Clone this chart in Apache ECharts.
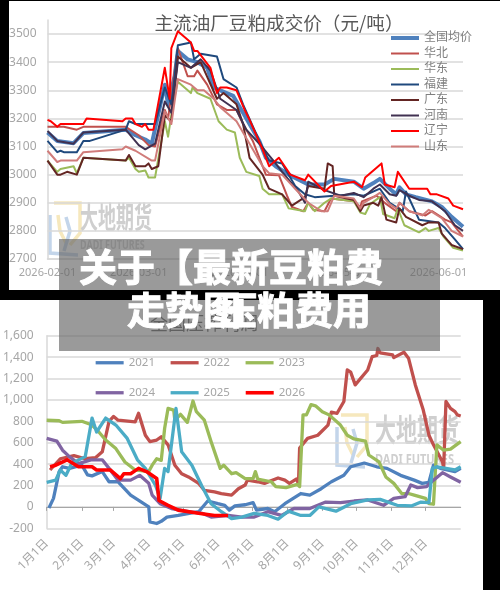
<!DOCTYPE html>
<html><head><meta charset="utf-8">
<style>html,body{margin:0;padding:0;background:#000;width:500px;height:590px;overflow:hidden}
#c,#o{position:absolute;left:0;top:0;width:500px;height:590px}#o{pointer-events:none}#c{filter:blur(0.5px)}</style>
<script src="https://cdn.jsdelivr.net/npm/echarts@6/dist/echarts.min.js"></script>
</head><body><div id="c"></div><div id="o"></div>
<script>
// ---- top chart: days since 2026-02-01, price (yuan/ton)
const topTickDays = [0, 28, 59, 89, 120];
const topTickLabels = ['2026-02-01', '2026-03-01', '2026-04-01', '2026-05-01', '2026-06-01'];
const topNames = ['全国均价', '华北', '华东', '福建', '广东', '河南', '辽宁', '山东'];
const national = [[0,3150],[3,3120],[8,3112],[11,3148],[24,3160],[27,3140],[30,3125],[32,3110],[36,3320],[37,3250],[39,3350],[40,3440],[43,3410],[46,3400],[49,3380],[51,3310],[53,3300],[57,3280],[60,3220],[65,3120],[67,3060],[70,3030],[74,3000],[80,2965],[85,2965],[88,2985],[94,2975],[97,2950],[100,2970],[102,2985],[105,2950],[107,2930],[108,2955],[110,2930],[113,2920],[118,2905],[121,2885],[124,2850],[127.5,2815]];
const huabei = [[0,3170],[5,3170],[9,3160],[11,3170],[24,3170],[28,3140],[31,3105],[33,3100],[36,3230],[37,3200],[40,3450],[43,3350],[45,3350],[46,3370],[49,3320],[52,3250],[55,3230],[58,3230],[60,3180],[63,3120],[67,3000],[71,2998],[73.5,2925],[75,2885],[78.5,2870],[80,2900],[81.5,2875],[85,2870],[87,2915],[94,2905],[96,2885],[96.5,2905],[101,2925],[104,2895],[107,2870],[108,2900],[111,2870],[116,2855],[118,2870],[122,2840],[124,2830],[127.5,2780]];
const huadong = [[0,3050],[3,3010],[4,3020],[8,3030],[9,3005],[11,3060],[24,3050],[25,3060],[27,3020],[28,3010],[30,3015],[31,2990],[33,2990],[36,3190],[37,3135],[38.5,3250],[40,3330],[44,3290],[44.5,3310],[46,3290],[50,3270],[52.5,3190],[55,3160],[57.5,3150],[59,3060],[61,3010],[65,2995],[66,2950],[68,2930],[72,2930],[74,2880],[79,2870],[80,2900],[82,2870],[85,2900],[87,2915],[94,2905],[96,2865],[97.5,2860],[99,2895],[102,2920],[103,2860],[106.5,2845],[107.5,2880],[109.5,2820],[114,2795],[116,2810],[117,2800],[120,2810],[121.5,2780],[124.5,2740],[127.5,2730]];
const fujian = [[0,3120],[3,3080],[4,3085],[5,3080],[9,3080],[11,3120],[13,3120],[24,3160],[25,3190],[27,3180],[33,3180],[36,3310],[38,3250],[39,3350],[40,3460],[44,3470],[45,3410],[47,3430],[52,3420],[54,3340],[58,3310],[60,3250],[65,3120],[68,3050],[72,3040],[76,2960],[79,2930],[82,2920],[94,2930],[97,2925],[102,2950],[105,2900],[109,2870],[110,2940],[114,2840],[120,2830],[122,2810],[125,2770],[127.5,2735]];
const guangdong = [[0,3050],[3,3000],[4,3000],[6,3010],[9,3000],[11,3060],[24,3050],[25,3070],[27,3030],[30,3030],[31,3040],[32,3020],[34,3030],[36,3210],[38,3190],[40,3420],[44,3380],[47,3400],[52,3270],[54,3290],[58,3250],[60,3180],[62,3060],[66,3000],[68,2950],[72,2930],[75,2890],[79,2920],[80,2960],[85,2950],[86,3040],[87.5,3030],[88,2925],[94,2910],[96,2870],[97,2890],[100,2900],[101.5,2890],[102.5,2920],[104,2840],[107,2830],[108,2880],[110,2850],[115,2820],[117,2830],[120,2830],[121,2790],[124,2750],[127.5,2735]];
const henan = [[0,3155],[3,3120],[8,3110],[11,3150],[24,3160],[28,3105],[30,3090],[33,3110],[36,3260],[38,3220],[40,3400],[44,3380],[47,3410],[50,3370],[53,3270],[58,3230],[61,3160],[65,3110],[70,3040],[72,3010],[77,2940],[79,2900],[80,2975],[85,2945],[90,2925],[94,2935],[97,2920],[100,2950],[102,2965],[105,2930],[107,2925],[108,2945],[111,2925],[114,2910],[118,2905],[122,2870],[125,2820],[127.5,2800]];
const liaoning = [[0,3195],[1,3190],[3,3170],[4,3180],[11,3180],[12,3200],[23,3190],[24,3200],[26,3200],[27,3180],[29,3170],[30,3180],[31,3160],[32.5,3160],[36,3380],[37.5,3270],[38,3450],[40,3510],[44,3470],[45,3440],[46,3440],[50,3380],[52,3290],[53,3310],[55,3310],[58,3300],[60.5,3230],[62,3195],[66,3090],[68,3030],[71,3060],[74.5,3000],[79,2980],[80,3000],[85,2940],[87,2960],[94,2975],[96.5,2955],[97.5,2990],[102.5,3040],[103.5,2965],[106.5,2955],[107.5,3010],[111,2950],[116.5,2950],[117.5,2930],[119.5,2930],[123,2915],[124.5,2890],[127.5,2877]];
const shandong = [[0,3085],[3,3045],[4,3050],[9,3050],[11,3080],[23,3090],[24,3100],[27,3085],[32,3050],[33,3050],[36,3225],[38,3180],[40,3340],[44,3320],[46,3300],[48,3300],[51,3270],[53,3240],[58,3190],[60,3150],[66,3030],[68,3005],[72,3000],[76,2950],[80,2900],[84,2870],[86,2870],[88,2925],[94,2915],[96,2880],[97,2900],[100,2920],[102,2935],[105,2895],[107,2880],[108,2900],[111,2870],[115,2855],[117,2875],[121,2845],[124,2800],[127.5,2780]];
const topValues = [national, huabei, huadong, fujian, guangdong, henan, liaoning, shandong];
const topColors = ['#4f81bd', '#c0504d', '#9bbb59', '#1f497d', '#632523', '#403151', '#ff0000', '#d07c7a'];
const topWidths = [4, 2, 2, 2, 2, 2, 2, 2];

// ---- bottom chart: day of year, value
const botTickDays = [0, 31, 59, 90, 120, 151, 181, 212, 243, 273, 304, 334];
const botTickLabels = ['1月1日','2月1日','3月1日','4月1日','5月1日','6月1日','7月1日','8月1日','9月1日','10月1日','11月1日','12月1日'];
const botNames = ['2021', '2022', '2023', '2024', '2025', '2026'];
const y2021 = [[2,-10],[6,80],[11,330],[14,375],[20,360],[31,390],[36,300],[40,290],[49,330],[55,235],[63,235],[74,110],[90,0],[91,-140],[97,-155],[101,-135],[106,-95],[116,-80],[134,-45],[142,55],[151,30],[157,15],[161,-30],[166,10],[175,20],[182,40],[185,-30],[195,-15],[201,-45],[210,30],[224,125],[232,110],[242,170],[251,235],[262,295],[268,375],[280,410],[291,375],[300,360],[312,295],[324,250],[331,220],[337,230],[341,390],[347,360],[360,330],[365,360]];
const y2022 = [[3,345],[12,450],[24,480],[34,450],[43,460],[49,515],[55,800],[59,845],[63,810],[78,795],[81,875],[87,670],[91,610],[97,625],[101,655],[107,580],[113,390],[119,310],[125,280],[134,220],[139,155],[148,140],[154,125],[163,110],[169,170],[175,205],[177,250],[186,235],[192,220],[204,270],[210,250],[214,220],[220,260],[222,220],[223,550],[230,640],[239,670],[248,765],[251,885],[256,875],[262,985],[265,1280],[268,1260],[272,1140],[283,1280],[287,1405],[291,1415],[292,1480],[294,1440],[305,1420],[306,1395],[315,1445],[319,1390],[325,1140],[332,905],[337,670],[341,580],[349,420],[350,360],[352,985],[356,920],[360,890],[362,860],[365,850]];
const y2023 = [[0,810],[11,805],[14,790],[31,800],[40,765],[46,700],[52,625],[61,545],[69,420],[78,345],[90,330],[93,390],[97,450],[101,435],[104,735],[107,920],[112,905],[113,810],[118,865],[124,790],[129,990],[132,890],[139,810],[145,610],[153,360],[156,390],[163,310],[167,320],[175,265],[182,265],[184,330],[186,260],[198,235],[202,190],[211,180],[221,210],[223,190],[226,860],[229,860],[233,955],[237,945],[243,890],[249,860],[259,765],[265,670],[271,635],[281,615],[284,485],[293,420],[299,280],[306,220],[313,125],[319,125],[324,110],[334,80],[337,30],[341,25],[344,580],[350,530],[356,540],[365,610]];
const y2024 = [[0,640],[9,615],[14,530],[20,470],[28,405],[39,440],[49,440],[55,360],[63,250],[74,250],[82,295],[90,220],[93,110],[100,30],[110,-15],[125,-45],[137,-60],[145,-95],[160,-80],[172,-95],[183,-95],[195,-45],[207,-80],[218,-15],[232,-15],[246,45],[259,40],[271,55],[283,65],[297,15],[306,80],[316,95],[321,205],[327,180],[335,190],[341,250],[349,320],[356,280],[365,230]];
const y2025 = [[0,230],[8,250],[12,345],[17,295],[22,405],[34,470],[40,830],[44,700],[52,830],[61,765],[71,640],[80,440],[87,360],[96,200],[100,80],[104,360],[107,330],[114,920],[119,515],[128,390],[137,190],[145,30],[154,-45],[163,-110],[172,-95],[183,-60],[195,-80],[204,-115],[213,-40],[224,-80],[232,-80],[240,0],[255,-40],[268,30],[283,65],[294,70],[309,15],[322,10],[330,45],[337,40],[340,360],[344,375],[360,345],[365,375]];
const y2026 = [[3,375],[8,390],[18,440],[28,375],[40,375],[44,345],[56,345],[65,265],[68,310],[74,310],[81,360],[88,330],[97,265],[99,60],[107,15],[116,-30],[134,-60],[148,-80],[160,-80]];
const botValues = [y2021, y2022, y2023, y2024, y2025, y2026];
const botColors = ['#4f81bd', '#c0504d', '#9bbb59', '#8064a2', '#4bacc6', '#ff0000'];

const FONT = '"Noto Sans","Noto Sans CJK SC",sans-serif';
const GREY = '#a6a6a6', GRID = '#d9d9d9';

function lineSeries(name, data, color, width, axisIndex) {
  return { name, type: 'line', data, xAxisIndex: axisIndex, yAxisIndex: axisIndex, symbol: 'none', showSymbol: false,
    smooth: false, silent: true, animation: false, color, lineStyle: { color, width, join: 'round' } };
}
function legend(data, left, top, orient, itemGap) {
  return { data, left, top, orient, itemGap, padding: 0, itemWidth: 28, itemHeight: 14, selectedMode: false,
    itemStyle: { opacity: 0 }, lineStyle: { width: 'inherit' },
    textStyle: { color: orient === 'vertical' ? '#7f7f7f' : GREY, fontFamily: FONT, fontSize: orient === 'vertical' ? 12 : 11.5 } };
}
function watermark(x, y, w, nameSize, nameScale, subSize, lx, ly) {
  const blue = '#c3d5ea', yellow = '#f6e8bd';
  const s = (pts, c) => ({ type: 'polyline', shape: { points: pts }, style: { stroke: c, lineWidth: 3.5, fill: null } });
  return [
    s([[lx+4,ly],[lx+30,ly],[lx+30,ly+30],[lx+20,ly+42]], yellow),
    s([[lx+8,ly+12],[lx+10,ly+28],[lx+16,ly+40]], yellow),
    s([[lx,ly+12],[lx,ly+50],[lx+28,ly+52]], blue),
    s([[lx+16,ly+14],[lx+20,ly+28],[lx+14,ly+48]], blue),
    { type: 'text', x, y, scaleY: nameScale, style: { text: '大地期货', font: `bold ${nameSize}px "Noto Sans CJK SC"`, fill: '#cfcfcf' } },
    { type: 'text', x, y: y + nameSize * nameScale + 8, scaleY: 1.3, style: { text: 'DADI FUTURES', font: `bold ${subSize}px "Noto Sans"`, fill: '#cfcfcf' } }
  ];
}

const chart = echarts.init(document.getElementById('c'), null, { renderer: 'canvas', width: 500, height: 590 });
chart.setOption({
  animation: false,
  backgroundColor: '#000',
  graphic: { z: -1, elements: [
    { type: 'rect', shape: { x: 9, y: 1, width: 491, height: 289 }, style: { fill: '#fff' } },
    { type: 'rect', shape: { x: 0, y: 300, width: 483, height: 290 }, style: { fill: '#fff' } },
    ...watermark(80, 202, 71, 18, 1.65, 9, 50, 203),
    ...watermark(375, 414, 85, 21, 1.45, 11, 337, 415),
    { type: 'text', x: 204, y: 323, style: { text: '全国压榨利润', font: '18px "Noto Sans CJK SC"', fill: '#595959', align: 'center', verticalAlign: 'middle' } },
    { type: 'text', x: 279, y: 23, style: { text: '主流油厂豆粕成交价（元/吨）', font: '18.6px "Noto Sans CJK SC"', fill: '#595959', align: 'center', verticalAlign: 'middle' } }
  ] },
  legend: [
    legend(topNames, 389, 32, 'vertical', 3.5),
    legend(botNames.slice(0, 3), 94, 357, 'horizontal', 14),
    legend(botNames.slice(3), 94, 387, 'horizontal', 14)
  ],
  grid: [
    { left: 47.5, width: 415.5, top: 20, height: 239 },
    { left: 44.3, width: 416.4, top: 335.7, height: 192.6 }
  ],
  xAxis: [
    { type: 'value', gridIndex: 0, min: 0, max: 127.5, splitLine: { show: false },
      axisLine: { show: true, lineStyle: { color: GRID, width: 1.5 } }, axisTick: { show: false },
      axisLabel: { customValues: topTickDays, color: GREY, fontFamily: FONT, fontSize: 11, margin: 8, hideOverlap: false,
        formatter: v => topTickLabels[topTickDays.indexOf(v)] || '' } },
    { type: 'value', gridIndex: 1, min: 0, max: 365, splitLine: { show: false },
      axisLine: { show: false, onZero: false }, axisTick: { show: false },
      axisLabel: { customValues: botTickDays, color: GREY, fontFamily: FONT, fontSize: 12, rotate: 45, margin: 13, hideOverlap: false,
        formatter: v => botTickLabels[botTickDays.indexOf(v)] || '' } },
    { type: 'value', gridIndex: 1, min: 0, max: 365, splitLine: { show: false },
      axisLine: { show: true, onZero: true, lineStyle: { color: '#a6a6a6', width: 1 } },
      axisTick: { show: true, inside: true, length: 4, customValues: botTickDays, lineStyle: { color: '#a6a6a6' } },
      axisLabel: { show: false } }
  ],
  yAxis: [
    { type: 'value', gridIndex: 0, min: 2700, max: 3550, interval: 100, axisTick: { show: false },
      axisLine: { show: true, lineStyle: { color: GRID, width: 1.5 } },
      splitLine: { show: true, showMaxLine: false, lineStyle: { color: GRID, width: 1.5 } },
      axisLabel: { color: GREY, fontFamily: FONT, fontSize: 12, margin: 11, showMaxLabel: false, formatter: v => String(v) } },
    { type: 'value', gridIndex: 1, min: -200, max: 1600, interval: 200, axisTick: { show: false },
      axisLine: { show: true, lineStyle: { color: GRID, width: 1.5 } },
      splitLine: { show: true, lineStyle: { color: GRID, width: 1.5 } },
      axisLabel: { color: GREY, fontFamily: FONT, fontSize: 12, margin: 13, formatter: v => v.toLocaleString('en-US') } }
  ],
  series: [
    ...topNames.map((n, i) => lineSeries(n, topValues[i], topColors[i], topWidths[i], 0)),
    ...botNames.map((n, i) => lineSeries(n, botValues[i], botColors[i], i === 5 ? 3.6 : 3.3, 1))
  ]
});

const overlay = echarts.init(document.getElementById('o'), null, { renderer: 'canvas', width: 500, height: 590 });
const titleStyle = (text, x, y, align) => ({ type: 'text', x, y, style: { text, align, verticalAlign: 'middle',
  font: 'bold 38px "Noto Sans CJK SC"', fill: '#fff', stroke: '#fff', lineWidth: 1 } });
overlay.setOption({
  animation: false,
  backgroundColor: 'transparent',
  graphic: { elements: [
    { type: 'rect', shape: { x: 59, y: 239, width: 381, height: 112 }, style: { fill: 'rgba(100,100,100,0.65)' } },
    { type: 'rect', shape: { x: 0, y: 290, width: 500, height: 10 }, style: { fill: '#000' } },
    titleStyle('关于【最新豆粕费', 231, 267, 'center'),
    titleStyle('走势图', 127, 310, 'left'),
    titleStyle('压粕费用', 371, 310, 'right')
  ] }
});
</script></body></html>
